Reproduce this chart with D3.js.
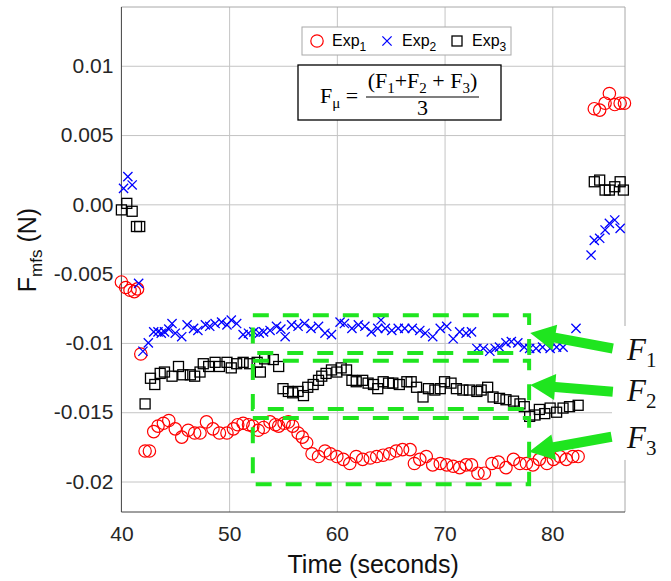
<!DOCTYPE html>
<head>
  <meta charset="utf-8">
  <script src="https://cdnjs.cloudflare.com/ajax/libs/d3/7.8.5/d3.min.js"></script>
  <style>body { margin: 0; background: #fff }</style>
</head>

<body>
  <div id="chart"></div>

  <script>
    // [time (s), force (N)]
    const exp1 = [
      [40.0,-0.0056],[40.4,-0.0060],[40.8,-0.0062],[41.2,-0.0063],[41.5,-0.0061],
      [41.8,-0.0108],[42.2,-0.0178],[42.6,-0.0178],[43.0,-0.0164],[43.4,-0.0160],[43.9,-0.0158],
      [44.4,-0.0156],[45.0,-0.0162],[45.6,-0.0168],[46.2,-0.0163],[46.8,-0.0165],[47.3,-0.0165],
      [47.9,-0.0157],[48.5,-0.0162],[49.1,-0.0165],[49.8,-0.0165],[50.4,-0.0162],[50.8,-0.0159],
      [51.3,-0.0158],[51.8,-0.0159],[52.2,-0.0160],[52.7,-0.0163],[53.2,-0.0161],[53.8,-0.0157],
      [54.3,-0.0159],[54.6,-0.0160],[55.1,-0.0158],[55.5,-0.0157],[55.9,-0.0160],[56.4,-0.0165],
      [56.8,-0.0168],[57.2,-0.0172],[57.7,-0.0180],[58.3,-0.0182],[58.9,-0.0178],[59.4,-0.0180],
      [60.0,-0.0182],[60.6,-0.0184],[61.2,-0.0187],[61.8,-0.0182],[62.4,-0.0184],[63.1,-0.0183],
      [63.7,-0.0182],[64.3,-0.0181],[64.9,-0.0180],[65.5,-0.0178],[66.1,-0.0177],[66.8,-0.0177],
      [67.2,-0.0187],[67.7,-0.0184],[68.3,-0.0182],[68.9,-0.0188],[69.6,-0.0187],[70.2,-0.0188],
      [70.8,-0.0189],[71.4,-0.0190],[72.0,-0.0188],[72.5,-0.0188],[73.1,-0.0194],[73.7,-0.0194],
      [74.4,-0.0187],[75.0,-0.0186],[75.7,-0.0190],[76.4,-0.0184],[77.0,-0.0187],[77.6,-0.0187],
      [78.2,-0.0188],[78.8,-0.0184],[79.5,-0.0187],[80.1,-0.0184],[80.7,-0.0182],[81.3,-0.0184],
      [81.9,-0.0182],[82.4,-0.0182],
      [83.9,0.0069],[84.4,0.0068],[84.9,0.0073],[85.3,0.0080],[85.8,0.0072],[86.3,0.0073],[86.7,0.0073]
    ];
    const exp2 = [
      [40.2,0.00115],[40.6,0.0020],[41.0,0.0014],[41.6,-0.0057],
      [42.0,-0.0106],[42.5,-0.0100],[43.0,-0.0092],[43.4,-0.0092],[43.7,-0.0093],[44.0,-0.0092],
      [44.4,-0.0090],[44.7,-0.0086],[45.0,-0.0093],[45.6,-0.00955],[46.1,-0.0087],[46.7,-0.00895],
      [47.1,-0.0091],[47.8,-0.0087],[48.2,-0.0088],[48.7,-0.0086],[49.3,-0.0085],[49.8,-0.0087],
      [50.2,-0.00835],[50.7,-0.0086],[51.3,-0.0094],[51.8,-0.0093],[52.3,-0.0092],[52.8,-0.0093],
      [53.2,-0.0092],[53.8,-0.0091],[54.4,-0.0088],[54.8,-0.0090],[55.2,-0.00955],[55.8,-0.0087],
      [56.4,-0.0088],[57.0,-0.0086],[57.6,-0.00895],[58.3,-0.0088],[58.9,-0.0093],[59.5,-0.0094],
      [60.3,-0.0085],[60.7,-0.0086],[61.4,-0.00895],[62.0,-0.0087],[62.6,-0.0088],[63.2,-0.0092],
      [63.8,-0.00895],[64.1,-0.00835],[64.5,-0.00895],[65.1,-0.0091],[65.7,-0.00895],[66.3,-0.00895],
      [67.0,-0.00895],[67.7,-0.0091],[68.2,-0.0093],[68.9,-0.00955],[69.6,-0.00895],[70.2,-0.0088],
      [70.8,-0.0097],[71.4,-0.0092],[72.0,-0.0093],[72.5,-0.0092],[73.0,-0.0104],[73.6,-0.0104],
      [74.2,-0.0106],[74.7,-0.0104],[75.1,-0.0103],[75.7,-0.0100],[76.2,-0.0099],[76.8,-0.0100],
      [77.4,-0.0103],[77.9,-0.0104],[78.5,-0.0104],[79.1,-0.0103],[79.8,-0.0104],[80.4,-0.0103],
      [81.0,-0.0103],[82.2,-0.00895],
      [83.6,-0.00366],[83.9,-0.0026],[84.4,-0.00245],[84.9,-0.00185],[85.3,-0.00137],[85.8,-0.00113],[86.3,-0.00173]
    ];
    const exp3 = [
      [40.0,-0.0004],[40.5,0.00007],[41.0,-0.0005],[41.4,-0.0016],[41.7,-0.0016],
      [42.2,-0.0144],[42.7,-0.01255],[43.1,-0.0130],[43.6,-0.0122],[44.0,-0.0121],[44.7,-0.0124],
      [45.3,-0.0117],[45.7,-0.0123],[46.4,-0.0123],[46.8,-0.0124],[47.3,-0.0121],[47.6,-0.0115],
      [48.1,-0.0117],[48.7,-0.0114],[49.1,-0.0117],[49.8,-0.0114],[50.2,-0.0118],[50.7,-0.0115],
      [51.3,-0.0114],[51.9,-0.0115],[52.6,-0.0114],[52.9,-0.0121],[53.3,-0.01115],[54.1,-0.0112],
      [54.6,-0.0117],[55.0,-0.0133],[55.5,-0.0135],[55.9,-0.0136],[56.4,-0.0135],[56.9,-0.0138],
      [57.3,-0.0132],[57.8,-0.0130],[58.3,-0.0127],[58.6,-0.0124],[59.0,-0.0122],[59.5,-0.01195],
      [60.0,-0.0121],[60.4,-0.0118],[60.9,-0.01195],[61.4,-0.0127],[61.8,-0.0128],[62.4,-0.0127],
      [62.9,-0.0129],[63.4,-0.0130],[63.8,-0.0133],[64.3,-0.0128],[64.8,-0.0129],[65.2,-0.0129],
      [65.8,-0.0130],[66.5,-0.0128],[66.9,-0.0128],[67.4,-0.0132],[68.0,-0.0139],[68.5,-0.0133],
      [69.1,-0.0134],[69.6,-0.0133],[70.0,-0.0128],[70.6,-0.0129],[71.1,-0.0133],[71.7,-0.0134],
      [72.3,-0.0134],[73.0,-0.0135],[73.4,-0.0134],[74.0,-0.0132],[74.5,-0.0139],[75.1,-0.0140],
      [75.7,-0.0141],[76.4,-0.0142],[77.0,-0.0144],[77.4,-0.0146],[77.9,-0.0153],[78.4,-0.0152],
      [78.8,-0.0148],[79.3,-0.0151],[79.8,-0.0147],[80.4,-0.0150],[81.0,-0.0147],[81.6,-0.0146],
      [82.4,-0.0145],
      [83.9,0.00163],[84.4,0.00175],[84.9,0.00103],[85.3,0.00103],[85.8,0.00127],[86.3,0.00163],[86.6,0.00103]
    ];

    const xTicks = [40, 50, 60, 70, 80];
    const yTicks = [0.01, 0.005, 0, -0.005, -0.01, -0.015, -0.02];
    const yTickLabels = ['0.01', '0.005', '0.00', '-0.005', '-0.01', '-0.015', '-0.02'];

    // highlighted windows: [t0, t1, f top, f bottom]
    const windows = [
      [52.2, 77.85, -0.0080, -0.01073],
      [52.2, 77.85, -0.01128, -0.01477],
      [52.2, 77.85, -0.01542, -0.0202]
    ];
    const arrowTips = [[77.95, -0.00928], [77.95, -0.01304], [77.85, -0.01785]];
    const arrowTails = [[85.62, -0.0104], [85.62, -0.01352], [85.5, -0.01677]];
    const arrowNames = ['1', '2', '3'];

    const width = 671, height = 581;
    const plotL = 121.4, plotR = 625, plotT = 7, plotB = 512;
    const GREEN = '#1fe51f';

    const svg = d3.select('#chart').append('svg')
      .attr('width', width)
      .attr('height', height)
      .style('font-family', '"Liberation Sans", Arial, sans-serif');

    const x = d3.scaleLinear().domain([40, 86.75]).range([plotL, plotR]);
    const y = d3.scaleLinear().domain([-0.0222, 0.01424]).range([plotB, plotT]);

    // grid
    svg.append('g')
      .attr('transform', `translate(0,${plotB})`)
      .call(d3.axisBottom(x).tickValues(xTicks.slice(1)).tickSize(-(plotB - plotT)).tickFormat(''))
      .call(g => g.select('.domain').remove())
      .selectAll('line').attr('stroke', '#c4c4c4');
    svg.append('g')
      .attr('transform', `translate(${plotL},0)`)
      .call(d3.axisLeft(y).tickValues(yTicks).tickSize(-(plotR - plotL)).tickFormat(''))
      .call(g => g.select('.domain').remove())
      .selectAll('line').attr('stroke', '#c4c4c4');

    // frame
    svg.append('path')
      .attr('d', `M${plotL},${plotT}H${plotR}V${plotB}`)
      .attr('fill', 'none').attr('stroke', '#a8a8a8');
    svg.append('path')
      .attr('d', `M${plotL},${plotT}V${plotB}H${plotR}`)
      .attr('fill', 'none').attr('stroke', '#404040');

    // tick labels
    svg.append('g')
      .attr('transform', `translate(0,${plotB})`)
      .call(d3.axisBottom(x).tickValues(xTicks).tickSize(0).tickPadding(14))
      .call(g => g.select('.domain').remove())
      .selectAll('text')
      .attr('font-size', 21).attr('font-family', '"Liberation Sans", Arial').attr('fill', '#262626');
    svg.append('g')
      .attr('transform', `translate(${plotL},0)`)
      .call(d3.axisLeft(y).tickValues(yTicks).tickSize(0).tickPadding(8)
        .tickFormat((d, i) => yTickLabels[i]))
      .call(g => g.select('.domain').remove())
      .selectAll('text')
      .attr('font-size', 21).attr('font-family', '"Liberation Sans", Arial').attr('fill', '#262626');

    // axis titles
    svg.append('text')
      .attr('x', (plotL + plotR) / 2).attr('y', 573)
      .attr('text-anchor', 'middle').attr('font-size', 25).attr('fill', '#111')
      .text('Time (seconds)');
    const yl = svg.append('text')
      .attr('transform', `translate(36,250) rotate(-90)`)
      .attr('text-anchor', 'middle').attr('font-size', 25).attr('fill', '#111');
    yl.append('tspan').text('F');
    yl.append('tspan').attr('font-size', 17).attr('dy', 6).text('mfs');
    yl.append('tspan').attr('dy', -6).text(' (N)');

    // data
    const plot = svg.append('g');
    plot.selectAll('circle.e1').data(exp1).join('circle')
      .attr('class', 'e1')
      .attr('cx', d => x(d[0])).attr('cy', d => y(d[1]))
      .attr('r', 6.2).attr('fill', 'none').attr('stroke', '#ff0000').attr('stroke-width', 1.2);
    plot.selectAll('path.e2').data(exp2).join('path')
      .attr('class', 'e2')
      .attr('d', d => {
        const cx = x(d[0]), cy = y(d[1]), s = 4.6;
        return `M${cx - s},${cy - s}L${cx + s},${cy + s}M${cx - s},${cy + s}L${cx + s},${cy - s}`;
      })
      .attr('fill', 'none').attr('stroke', '#0000ff').attr('stroke-width', 1.3);
    plot.selectAll('rect.e3').data(exp3).join('rect')
      .attr('class', 'e3')
      .attr('x', d => x(d[0]) - 5).attr('y', d => y(d[1]) - 5)
      .attr('width', 10).attr('height', 10)
      .attr('fill', 'none').attr('stroke', '#000').attr('stroke-width', 1.3);

    // dashed windows
    svg.selectAll('rect.win').data(windows).join('rect')
      .attr('class', 'win')
      .attr('x', d => x(d[0])).attr('y', d => y(d[2]))
      .attr('width', d => x(d[1]) - x(d[0])).attr('height', d => y(d[3]) - y(d[2]))
      .attr('fill', 'none').attr('stroke', GREEN).attr('stroke-width', 4)
      .attr('stroke-dasharray', '16,14');

    // label background
    svg.append('rect')
      .attr('x', 612).attr('y', 326).attr('width', 60).attr('height', 134)
      .attr('fill', '#fff');

    // arrows
    function arrow(tip, tail) {
      const x1 = x(tip[0]), y1 = y(tip[1]), x2 = x(tail[0]), y2 = y(tail[1]);
      const len = Math.hypot(x2 - x1, y2 - y1);
      const ux = (x2 - x1) / len, uy = (y2 - y1) / len;
      const nx = -uy, ny = ux;
      const hl = 25, hw = 13, sw = 5;
      const bx = x1 + ux * hl, by = y1 + uy * hl;
      const pts = [
        [x1, y1],
        [bx + nx * hw, by + ny * hw],
        [bx + nx * sw, by + ny * sw],
        [x2 + nx * sw, y2 + ny * sw],
        [x2 - nx * sw, y2 - ny * sw],
        [bx - nx * sw, by - ny * sw],
        [bx - nx * hw, by - ny * hw]
      ];
      return 'M' + pts.map(p => p.join(',')).join('L') + 'Z';
    }
    svg.selectAll('path.arrow').data(arrowTips).join('path')
      .attr('class', 'arrow')
      .attr('d', (d, i) => arrow(d, arrowTails[i]))
      .attr('fill', GREEN);

    // F labels
    const fl = svg.selectAll('text.flab').data(arrowNames).join('text')
      .attr('class', 'flab')
      .attr('x', 627)
      .attr('y', (d, i) => y(arrowTails[i][1]) + [12, 9, 11][i])
      .attr('font-family', '"Liberation Serif", "Times New Roman", serif')
      .attr('font-style', 'italic').attr('font-size', 31).attr('fill', '#111');
    fl.append('tspan').text('F');
    fl.append('tspan').attr('font-style', 'normal').attr('font-size', 21).attr('dy', 7).text(d => d);

    // legend
    const lg = svg.append('g');
    lg.append('rect')
      .attr('x', 302).attr('y', 27).attr('width', 209).attr('height', 28)
      .attr('fill', '#fff').attr('stroke', '#a8a8a8');
    const legendItems = ['1', '2', '3'];
    const lx = [317, 387, 457];
    legendItems.forEach((n, i) => {
      const cx = lx[i], cy = 41;
      if (i === 0) lg.append('circle').attr('cx', cx).attr('cy', cy).attr('r', 6.2)
        .attr('fill', 'none').attr('stroke', '#ff0000').attr('stroke-width', 1.2);
      if (i === 1) lg.append('path')
        .attr('d', `M${cx - 4.6},${cy - 4.6}L${cx + 4.6},${cy + 4.6}M${cx - 4.6},${cy + 4.6}L${cx + 4.6},${cy - 4.6}`)
        .attr('stroke', '#0000ff').attr('stroke-width', 1.3);
      if (i === 2) lg.append('rect').attr('x', cx - 5).attr('y', cy - 5).attr('width', 10).attr('height', 10)
        .attr('fill', 'none').attr('stroke', '#000').attr('stroke-width', 1.3);
      const t = lg.append('text').attr('x', cx + 15).attr('y', cy + 5)
        .attr('font-size', 16).attr('fill', '#000');
      t.append('tspan').text('Exp');
      t.append('tspan').attr('font-size', 12).attr('dy', 5).text(n);
    });

    // formula box
    const fb = svg.append('g')
      .attr('font-family', '"Liberation Serif", "Times New Roman", serif').attr('fill', '#000');
    fb.append('rect')
      .attr('x', 298).attr('y', 65).attr('width', 203).attr('height', 55)
      .attr('fill', '#fff').attr('stroke', '#000').attr('stroke-width', 1.3);
    const lhs = fb.append('text').attr('x', 320).attr('y', 103).attr('font-size', 22);
    lhs.append('tspan').text('F');
    lhs.append('tspan').attr('font-size', 15).attr('dy', 5).text('μ');
    lhs.append('tspan').attr('dy', -5).text(' =');
    fb.append('line')
      .attr('x1', 366).attr('x2', 479).attr('y1', 97).attr('y2', 97)
      .attr('stroke', '#000').attr('stroke-width', 1.2);
    const num = fb.append('text').attr('x', 422.5).attr('y', 88)
      .attr('text-anchor', 'middle').attr('font-size', 22);
    num.append('tspan').text('(F');
    num.append('tspan').attr('font-size', 15).attr('dy', 5).text('1');
    num.append('tspan').attr('dy', -5).text('+F');
    num.append('tspan').attr('font-size', 15).attr('dy', 5).text('2');
    num.append('tspan').attr('dy', -5).text(' + F');
    num.append('tspan').attr('font-size', 15).attr('dy', 5).text('3');
    num.append('tspan').attr('dy', -5).text(')');
    fb.append('text').attr('x', 422.5).attr('y', 115)
      .attr('text-anchor', 'middle').attr('font-size', 22).text('3');
  </script>
</body>
